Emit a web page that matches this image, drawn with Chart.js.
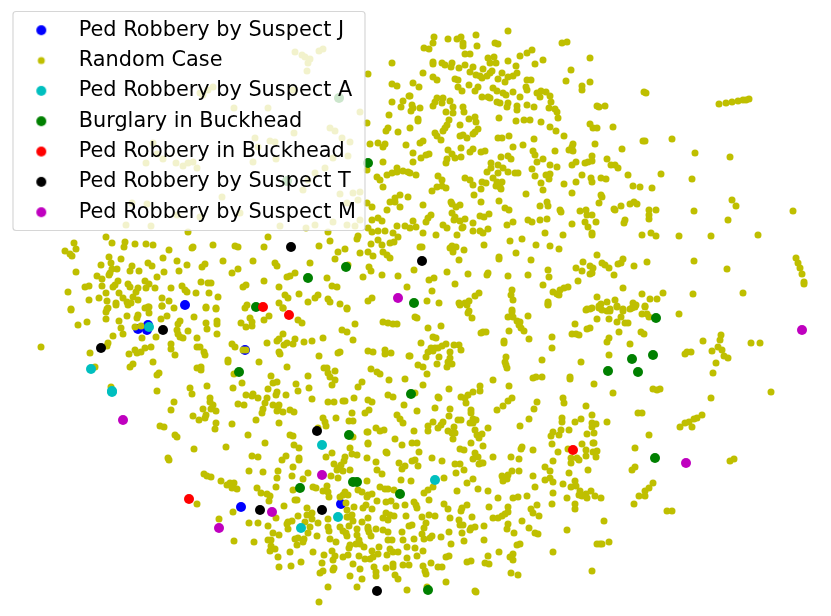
<!DOCTYPE html>
<html><head><meta charset="utf-8">
<style>html,body{margin:0;padding:0;background:#fff}canvas{display:block}</style>
<script src="https://cdn.jsdelivr.net/npm/chart.js@4"></script></head>
<body><canvas id="c" width="831" height="616"></canvas>
<script>
const suspectJ=[[185,305],[138,329],[147,330],[148,325],[245,350],[241,507],[341,504]];
const suspectA=[[149,327],[91,369],[112,391],[112,392],[322,445],[301,528],[338,517],[435,480]];
const burglary=[[339,98],[287,181],[368,163],[308,278],[346,267],[414,303],[256,307],[239,372],[349,435],[411,394],[353,482],[357,482],[300,488],[400,494],[656,318],[653,355],[632,359],[608,371],[638,372],[655,458],[428,590]];
const robberyBuckhead=[[263,307],[289,315],[189,499],[573,450]];
const suspectT=[[291,247],[422,261],[163,330],[101,348],[317,431],[260,510],[322,510],[377,591]];
const suspectM=[[398,298],[123,420],[322,475],[272,512],[219,528],[686,463],[802,330]];
const randomNW=[[295,52],[302,55],[305,57],[310,59],[308,63],[307,71],[319,51],[323,49],[368,74],[392,63],[213,87],[208,90],[200,93],[203,95],[293,90],[234,108],[268,108],[360,112],[367,123],[330,128],[335,131],[294,133],[342,138],[350,142],[255,138],[270,141],[275,142],[258,147],[153,143],[157,154],[146,163],[163,159],[176,163],[183,166],[188,163],[193,162],[197,168],[253,162],[276,159],[348,156],[333,158],[325,168],[315,173],[308,180],[340,194],[353,193],[360,192],[358,200],[347,203],[222,197],[303,190],[132,203],[147,204],[177,215],[200,217],[240,213],[126,225],[151,226],[280,226],[306,228],[315,225],[333,222],[347,225],[355,226],[360,220],
[392,84],[397,86],[409,96],[403,101],[392,102],[401,107],[389,115],[388,128],[386,131],[398,132],[370,144],[378,143],[385,144],[383,147],[406,145],[383,162],[367,170],[377,177],[380,180],[387,175],[392,173],[397,168],[397,172],[403,171],[408,172],[383,187],[400,195],[395,198],[390,202],[395,202],[408,197],[400,207],[387,210],[372,207],[367,203],[378,218],[372,220],[382,221],[397,226],[405,226],[368,228],[372,232],[378,231],[385,231],[393,233],[398,237],[394,242],[390,243],[378,240],[382,245],[371,244],[358,236],[357,239],[328,232],[330,241],[319,246],[338,252],[345,249],[360,253],[368,252],[373,256],[383,252],[387,255],[390,258],[335,259],[348,265],[369,267],[371,271],[363,277],[382,275],[398,276],[407,287],[327,278],[332,286],[337,287],[310,263],[295,273],[290,276],[287,277],[253,261],[275,263],[277,266],[264,247],[268,237],[238,247],[235,246],[213,245],[193,247],[192,248],[188,232],[169,250],[153,245],[146,244],[135,244],[125,242],[124,247],[112,243],[106,237],[74,243],[76,249],[65,251],[70,254],[72,256],[121,259],[109,257],[111,263],[101,265],[112,269],[110,273],[117,269],[132,266],[130,271],[139,271],[148,263],[152,266],[163,258],[177,261],[187,265],[202,267],[205,264],[223,261],[164,272],[179,271],[76,272],[97,276],[102,279],[109,275],[232,273],[238,269],[264,281],[246,285],[243,287],[201,282],[208,283],[211,283],[157,277],[145,281],[149,284],[155,288],[146,288],[128,284],[130,287],[118,281],[115,285],[113,287],[102,286],[89,286],[85,287],[68,292],[106,293],[119,293],[123,298],[136,292],[138,288],[133,297],[138,300],[171,288],[182,286],[185,290],[187,292],[196,293],[209,293],[218,297],[162,298],[169,301],[99,298],[89,300],[107,301],[116,303],[127,302],[131,303],[148,307],[162,306],[206,307],[216,308],[279,287],[285,295],[288,298],[299,294],[318,295],[315,298],[328,299],[330,302],[340,304],[308,302],[279,303],[283,308],[247,305],[372,298],[368,301],[347,308],[71,309],[108,308]];
const randomNE=[[508,31],[434,37],[433,43],[448,39],[457,39],[461,37],[463,43],[463,46],[476,35],[477,46],[424,48],[429,49],[495,43],[498,44],[562,43],[567,42],[465,54],[470,54],[532,50],[527,53],[520,56],[488,58],[494,57],[508,61],[490,63],[496,63],[535,64],[543,60],[590,58],[433,62],[433,64],[442,63],[445,65],[452,63],[451,67],[459,68],[465,65],[516,66],[473,67],[470,72],[476,75],[480,76],[483,69],[482,78],[487,76],[492,71],[490,73],[502,73],[517,73],[513,76],[508,77],[498,79],[505,82],[423,73],[433,77],[437,80],[455,79],[458,80],[527,80],[531,80],[566,81],[571,70],[590,82],[413,83],[419,87],[458,87],[462,91],[469,85],[478,87],[475,91],[493,88],[497,91],[503,93],[506,95],[513,92],[526,87],[527,90],[537,93],[541,91],[546,92],[550,96],[540,97],[582,86],[582,90],[644,92],[646,93],[520,97],[482,97],[488,97],[490,98],[551,102],[410,96],[437,98],[443,98],[450,101],[442,103],[433,106],[435,102],[453,107],[446,112],[453,113],[463,107],[464,112],[497,102],[500,103],[508,103],[507,107],[517,106],[517,110],[527,105],[534,107],[549,108],[555,109],[557,112],[558,118],[597,106],[599,107],[605,106],[719,104],[726,103],[732,102],[738,101],[743,100],[749,99],[746,100],[412,105],[413,108],[420,108],[411,111],[418,119],[418,121],[449,120],[447,125],[460,125],[469,119],[475,117],[476,122],[499,118],[516,121],[524,120],[530,120],[541,122],[590,124],[593,128],[597,128],[613,127],[550,127],[556,131],[564,136],[410,128],[445,128],[443,131],[435,133],[437,136],[441,140],[478,129],[475,132],[473,134],[460,136],[463,135],[467,138],[498,138],[502,138],[509,136],[534,139],[672,139],[643,141],[645,141],[423,141],[420,143],[595,144],[573,144],[572,147],[569,150],[573,151],[513,147],[523,145],[448,150],[461,148],[473,149],[470,152],[481,152],[485,151],[533,151],[555,151],[622,149],[695,153],[730,157],[413,153],[429,154],[426,155],[421,158],[452,154],[455,158],[447,159],[446,163],[461,157],[501,157],[508,156],[511,159],[535,155],[543,159],[537,162],[413,162],[592,156],[592,161],[588,162],[585,163],[576,162],[572,165],[607,159],[611,165],[615,165],[618,168],[491,163],[498,165],[503,168],[491,168],[550,165],[557,167],[532,169],[487,172],[498,173],[508,172],[515,173],[518,173],[550,174],[546,175],[549,179],[535,176],[582,175],[628,175],[661,174],[692,179],[416,175],[410,173],[438,176],[442,180],[465,178],[470,180],[591,178],[592,182],[601,178],[606,179],[493,178],[497,182],[502,182],[482,182],[486,183],[473,185],[496,186],[500,187],[541,183],[576,182],[564,184],[437,187],[442,186],[446,188],[432,191],[481,189],[501,189],[543,190],[633,186],[640,187],[652,188],[572,193],[474,195],[526,194],[601,195],[602,197],[732,200],[499,201],[451,202],[452,204],[481,202],[547,202],[548,206],[599,203],[630,204],[634,202],[637,204],[736,206],[423,205],[460,205],[456,207],[505,208],[509,210],[540,206],[614,209],[615,210],[621,206],[560,210],[561,212],[586,210],[580,211],[649,210],[656,210],[694,211],[793,211],[452,213],[489,214],[431,215],[428,218],[426,222],[480,216],[484,217],[455,217],[454,220],[465,219],[460,221],[587,215],[592,215],[649,215],[649,219],[528,220],[532,222],[540,220],[547,219],[513,222],[507,225],[572,224],[585,222],[596,222],[625,220],[624,223],[728,220],[413,221],[443,225],[447,228],[473,223],[463,227],[462,228],[410,228],[416,227],[473,231],[480,231],[483,233],[488,229],[588,227],[423,233],[436,235],[457,235],[545,233],[563,235],[592,233],[592,235],[642,235],[651,233],[656,236],[679,236],[711,236],[758,235],[510,241],[522,239],[484,245],[536,245],[550,246],[559,249],[420,247],[422,247],[452,246],[456,247],[450,248],[453,252],[464,250],[516,253],[597,255],[499,257],[499,259],[531,260],[459,260],[623,259],[618,264],[621,263],[647,262],[694,261],[796,258],[798,263],[800,268],[802,274],[804,282],[804,284],[602,263],[605,265],[609,268],[583,262],[576,268],[582,271],[590,266],[593,268],[592,273],[590,274],[634,266],[727,269],[414,270],[447,272],[548,270],[468,274],[488,273],[487,275],[508,276],[528,275],[549,277],[614,275],[434,278],[429,280],[455,284],[578,281],[543,285],[568,287],[564,288],[560,290],[553,292],[557,294],[559,295],[623,288],[432,291],[512,290],[511,295],[479,293],[475,296],[642,294],[663,293],[693,294],[743,293],[597,297],[650,299],[657,299],[513,300],[548,302],[548,304],[427,301],[439,303],[459,303],[465,303],[469,301],[467,305],[607,302],[615,300],[601,304],[617,306],[633,303],[636,305],[645,306],[587,309],[592,308],[600,308],[610,309],[623,309],[632,308],[512,310],[599,306]];
const randomSW=[[71,310],[107,309],[106,312],[116,305],[128,305],[145,308],[149,307],[149,313],[174,308],[162,306],[206,308],[216,309],[245,308],[283,308],[347,309],[78,325],[87,322],[106,319],[127,316],[138,315],[137,318],[119,321],[167,316],[161,319],[180,321],[178,324],[194,317],[206,323],[217,321],[217,324],[241,323],[250,318],[252,322],[246,327],[252,326],[264,320],[269,316],[298,320],[302,323],[355,324],[383,322],[388,323],[393,324],[397,324],[121,328],[135,327],[141,326],[177,330],[188,331],[207,329],[217,334],[178,334],[180,337],[183,338],[197,338],[123,334],[113,336],[142,338],[156,337],[283,334],[279,339],[277,341],[295,339],[293,344],[287,343],[284,345],[304,342],[312,341],[323,338],[267,343],[342,330],[347,332],[353,340],[41,347],[108,343],[107,346],[90,353],[129,354],[135,350],[137,353],[141,352],[145,348],[151,347],[171,344],[171,349],[175,355],[197,347],[200,347],[204,352],[205,355],[232,344],[235,347],[243,350],[246,350],[279,352],[280,354],[319,356],[338,353],[340,352],[368,351],[373,352],[385,350],[385,354],[391,353],[409,356],[153,362],[228,362],[228,360],[259,362],[133,364],[130,367],[95,367],[197,368],[201,367],[201,370],[287,367],[324,368],[327,368],[335,371],[371,369],[377,372],[380,374],[234,374],[159,373],[157,375],[328,373],[330,377],[271,376],[308,376],[389,380],[405,379],[335,380],[277,382],[273,383],[242,383],[296,384],[332,385],[362,382],[358,387],[190,388],[207,386],[233,388],[309,388],[298,391],[157,391],[111,387],[268,389],[253,394],[246,395],[252,396],[258,398],[286,395],[277,392],[276,395],[192,394],[312,399],[354,398],[388,395],[393,397],[267,398],[328,402],[334,402],[343,401],[345,401],[368,400],[372,402],[210,398],[210,402],[265,403],[174,402],[238,404],[244,405],[213,405],[404,405],[273,405],[279,405],[263,409],[278,409],[203,409],[211,409],[216,411],[290,410],[294,412],[283,412],[277,411],[171,410],[369,410],[365,413],[262,413],[206,415],[193,416],[352,413],[397,415],[400,419],[336,418],[323,418],[205,418],[199,420],[256,420],[353,421],[349,421],[403,423],[325,422],[279,423],[216,423],[232,424],[215,429],[160,426],[164,427],[326,426],[318,428],[376,428],[380,431],[384,430],[367,432],[368,432],[248,435],[175,435],[177,437],[290,435],[293,436],[353,437],[395,439],[265,443],[368,443],[368,444],[402,445],[294,445],[226,447],[299,448],[194,449],[350,448],[386,452],[387,453],[332,453],[352,454],[357,455],[252,456],[258,457],[286,456],[282,460],[299,458],[299,460],[326,457],[345,457],[344,461],[367,458],[168,458],[169,460],[376,462],[399,463],[334,464],[341,465],[338,468],[293,467],[402,469],[405,466],[249,471],[263,472],[278,471],[337,470],[343,471],[350,470],[377,470],[382,474],[308,473],[292,476],[204,474],[207,476],[211,477],[277,478],[331,476],[338,478],[401,480],[303,479],[221,481],[367,481],[230,483],[234,483],[227,485],[232,488],[237,489],[276,487],[313,487],[316,488],[327,486],[380,487],[385,489],[388,489],[394,490],[257,488],[293,490],[323,491],[328,492],[261,493],[358,490],[362,492],[345,492],[343,495],[340,497],[348,495],[368,495],[367,497],[372,494],[267,494],[270,496],[329,497],[295,500],[297,500],[269,501],[377,501],[391,501],[386,502],[197,504],[396,506],[405,505],[366,505],[363,508],[372,509],[354,507],[346,503],[347,510],[284,506],[307,508],[233,512],[298,516],[307,515],[312,513],[352,515],[347,517],[348,517],[276,518],[328,519],[368,518],[383,518],[386,513],[390,515],[394,516],[388,520],[406,516],[219,519],[288,522],[292,521],[312,519],[305,522],[353,521],[362,522],[249,523],[258,523],[287,524],[318,523],[349,526],[268,526],[340,527],[368,527],[368,529],[409,526],[310,527],[288,529],[328,527],[329,531],[357,529],[376,529],[383,530],[388,532],[343,531],[346,533],[369,532],[371,536],[273,533],[279,535],[308,533],[317,536],[357,535],[402,532],[347,536],[298,538],[304,539],[295,539],[268,540],[271,540],[234,541],[254,542],[303,542],[330,539],[336,542],[359,540],[388,540],[392,540],[403,540],[297,545],[350,545],[356,544],[360,544],[364,547],[271,546],[379,547],[407,547],[390,549],[349,548],[270,551],[275,549],[393,552],[398,552],[313,552],[332,551],[372,551],[290,552],[348,555],[343,557],[335,556],[324,555],[359,556],[378,554],[387,555],[407,558],[278,557],[333,560],[365,559],[370,559],[373,557],[301,562],[322,563],[353,564],[393,564],[393,567],[403,565],[409,565],[279,567],[291,566],[374,567],[386,568],[323,571],[320,573],[333,570],[334,568],[360,569],[376,572],[376,576],[350,576],[395,575],[398,579],[362,579],[328,587],[357,587],[407,590],[319,602]];
const randomSE=[[417,318],[415,317],[428,328],[441,326],[460,305],[548,305],[586,310],[590,309],[599,308],[602,310],[607,311],[610,311],[617,307],[623,311],[630,309],[635,307],[645,307],[469,311],[472,318],[468,313],[512,312],[508,317],[513,317],[517,321],[520,322],[519,325],[521,328],[524,331],[528,316],[575,324],[597,319],[609,319],[621,317],[617,322],[625,323],[628,323],[642,314],[647,314],[649,317],[679,314],[590,328],[587,329],[619,332],[509,331],[483,332],[481,333],[486,332],[572,334],[576,334],[579,335],[641,332],[644,334],[433,337],[436,338],[552,337],[529,339],[609,338],[607,342],[504,341],[504,343],[630,344],[703,341],[721,335],[720,340],[751,343],[760,343],[421,343],[454,345],[459,345],[446,344],[442,346],[438,348],[435,348],[431,348],[428,352],[426,357],[433,351],[439,357],[450,352],[461,350],[552,348],[718,347],[722,350],[712,351],[687,352],[691,352],[685,354],[609,355],[506,357],[410,356],[450,358],[448,362],[452,364],[437,364],[418,365],[423,367],[447,367],[505,362],[506,365],[507,368],[542,360],[581,362],[716,363],[724,356],[728,358],[427,374],[713,373],[493,380],[533,378],[536,377],[542,377],[570,377],[570,379],[594,384],[423,385],[480,386],[480,391],[509,386],[449,389],[415,393],[473,392],[468,395],[461,397],[465,398],[466,403],[438,397],[439,398],[512,398],[508,401],[613,393],[653,389],[657,390],[660,389],[771,392],[711,398],[537,402],[503,406],[497,410],[534,409],[563,398],[564,403],[586,406],[435,408],[417,411],[450,409],[449,416],[471,410],[471,413],[592,415],[638,413],[642,413],[702,415],[697,418],[694,419],[689,422],[685,423],[680,427],[692,427],[461,420],[458,420],[473,419],[476,420],[470,423],[473,423],[475,430],[433,422],[443,422],[441,425],[438,428],[428,426],[428,431],[488,428],[414,431],[454,427],[448,431],[452,433],[455,433],[453,439],[529,419],[520,426],[562,418],[562,422],[575,422],[581,419],[592,423],[596,424],[592,427],[607,422],[569,430],[561,430],[553,432],[551,436],[559,435],[587,434],[594,433],[649,435],[482,434],[477,435],[479,438],[471,443],[483,446],[593,443],[594,443],[582,444],[552,444],[412,443],[417,443],[460,449],[464,450],[522,447],[521,449],[533,450],[568,449],[558,452],[586,450],[597,451],[593,452],[586,456],[596,457],[635,448],[419,452],[475,453],[478,457],[473,459],[432,458],[442,461],[511,457],[493,457],[519,459],[553,461],[577,458],[579,460],[571,458],[571,463],[730,461],[734,459],[415,460],[412,461],[418,466],[455,464],[460,464],[481,463],[479,464],[483,463],[545,467],[464,470],[456,473],[512,471],[519,471],[550,471],[588,470],[635,467],[632,470],[569,473],[533,476],[444,478],[502,476],[508,475],[473,479],[411,481],[503,478],[507,479],[503,481],[545,480],[550,478],[553,482],[467,483],[563,484],[575,481],[571,487],[576,486],[653,483],[433,487],[428,490],[424,493],[478,489],[488,491],[457,491],[535,487],[649,488],[645,491],[639,496],[645,496],[580,491],[591,491],[586,494],[579,495],[582,496],[595,496],[587,498],[601,498],[553,493],[567,498],[429,500],[498,498],[518,497],[513,498],[527,496],[414,502],[416,505],[444,504],[552,504],[575,504],[634,504],[417,508],[448,509],[467,505],[462,508],[461,511],[489,507],[508,507],[537,505],[575,509],[531,509],[533,513],[667,511],[672,511],[508,512],[505,514],[502,516],[498,518],[493,518],[539,516],[422,517],[429,515],[435,516],[450,518],[472,517],[459,520],[522,521],[604,521],[426,523],[460,525],[463,525],[412,525],[484,526],[508,524],[507,529],[475,527],[471,528],[470,530],[529,528],[567,530],[424,528],[449,532],[462,533],[514,533],[535,533],[538,534],[422,534],[432,536],[430,538],[424,539],[441,537],[414,539],[464,541],[484,540],[609,542],[597,544],[602,544],[600,544],[451,544],[517,545],[520,544],[415,548],[423,551],[499,552],[553,552],[488,556],[446,557],[449,556],[513,554],[510,557],[513,560],[417,556],[467,562],[471,561],[485,563],[489,564],[431,563],[423,566],[438,567],[442,567],[425,571],[426,574],[511,573],[518,575],[592,571],[446,582],[475,591],[476,592],[427,587]];
const randomCase=[...randomNW,...randomNE,...randomSW,...randomSE];
const seriesLabels=["Ped Robbery by Suspect J","Random Case","Ped Robbery by Suspect A","Burglary in Buckhead","Ped Robbery in Buckhead","Ped Robbery by Suspect T","Ped Robbery by Suspect M"];
const seriesData=[suspectJ,randomCase,suspectA,burglary,robberyBuckhead,suspectT,suspectM];
const seriesColors=["#0000ff","#bfbf00","#00bfbf","#008000","#ff0000","#000000","#bf00bf"];
const seriesRadius=[5,3.5,5,5,5,5,5];

function marker(color,r){const k=document.createElement('canvas');k.width=54;k.height=20;const g=k.getContext('2d');g.fillStyle=color;g.beginPath();g.arc(27,10,r,0,Math.PI*2);g.fill();return k;}

const frame={left:13,top:11.5,right:365,bottom:230.5};
const legendOnTop={id:'legendOnTop',
 afterLayout(ch){const l=ch.legend;if(!l._orig){l._orig=l.draw;l.draw=function(){};}
  l.left=4.8;l.top=10.3;},
 afterDatasetsDraw(ch){const c=ch.ctx;c.save();c.beginPath();c.roundRect(frame.left,frame.top,frame.right-frame.left,frame.bottom-frame.top,3);c.fillStyle='rgba(255,255,255,0.8)';c.fill();c.lineWidth=1.2;c.strokeStyle='rgba(204,204,204,0.8)';c.stroke();c.restore();
  ch.legend._orig.call(ch.legend);}
};

new Chart(document.getElementById('c'),{type:'scatter',
 data:{datasets:seriesLabels.map((label,i)=>({label,data:seriesData[i].map(([x,y])=>({x,y})),backgroundColor:seriesColors[i],borderWidth:0,pointRadius:seriesRadius[i],pointHoverRadius:seriesRadius[i],order:seriesLabels.length-i,clip:false}))},
 options:{responsive:false,animation:false,events:[],layout:{padding:0,autoPadding:false},
  scales:{x:{type:'linear',min:0,max:831,display:false},y:{type:'linear',min:0,max:616,reverse:true,display:false}},
  plugins:{tooltip:{enabled:false},title:{display:false},
   legend:{display:true,position:'chartArea',align:'start',
    labels:{color:'#000',font:{family:'"DejaVu Sans"',size:20.83,lineHeight:1.2},padding:9.5,usePointStyle:true,pointStyleWidth:54,boxHeight:20,
     generateLabels(ch){return ch.data.datasets.map((d,i)=>({text:d.label,datasetIndex:i,pointStyle:marker(seriesColors[i],seriesRadius[i]),fontColor:'#000',hidden:false,lineWidth:0,strokeStyle:'transparent',fillStyle:seriesColors[i]}));}
    }}}},
 plugins:[legendOnTop]});
</script></body></html>
